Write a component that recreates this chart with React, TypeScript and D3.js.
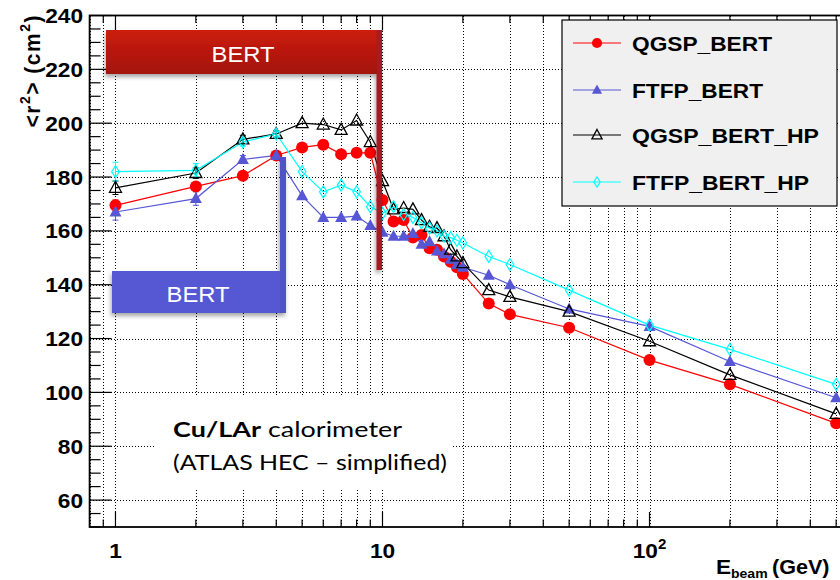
import React from 'react';
import * as d3 from 'd3';

// ---------- data ----------
const energies = [1, 2, 3, 4, 5, 6, 7, 8, 9, 10, 11, 12, 13, 14, 15, 16, 17, 18, 19, 20, 25, 30, 50, 100, 200, 500];
const qgspBert = [169.5, 176.5, 180.5, 188, 191, 192, 188.5, 189, 189, 171.5, 163.5, 164, 157.5, 158.5, 153.5, 153, 150.5, 148.5, 146.5, 144, 133, 129, 124, 112, 103, 88.5];
const ftfpBert = [167, 172, 186.5, 188, 173, 165, 165, 165.5, 162, 159.5, 158, 158, 159, 155, 156, 152.5, 151.5, 149.5, 147.5, 146.5, 143.5, 140, 131, 124.5, 111.5, 98];
const qgspBertHp = [176, 181.5, 194, 196, 200, 199.5, 197.5, 201, 193, 178.5, 168, 168.5, 168, 164, 161.5, 161, 158, 153, 150.5, 148, 138, 135.5, 130, 119, 106.5, 92];
const ftfpBertHp = [182, 182.5, 193, 196, 182, 174.5, 177, 174.5, 169, 166.5, 169, 166, 165, 163, 161, 160, 158, 157.5, 156.5, 155.5, 150.5, 147.5, 138, 125, 116, 103];
// error bars on the lowest energies (larger statistical spread)
const errQgspBert = [2.0, 1.5, 1.2, 1.2];
const errFtfpBert = [3.0, 2.5, 1.5, 1.2];
const errQgspBertHp = [2.5, 2.0, 1.5, 1.2];
const errFtfpBertHp = [3.5, 2.5, 1.5, 1.2];
const seriesNames = ['QGSP_BERT', 'FTFP_BERT', 'QGSP_BERT_HP', 'FTFP_BERT_HP'];
const seriesColors = ['#ff0000', '#5757d6', '#000000', '#00ffff'];
const seriesMarkers = ['circle', 'triangleFilled', 'triangleOpen', 'diamondOpen'];
const yTickLabels = [60, 80, 100, 120, 140, 160, 180, 200, 220, 240];
const xTickLabels = [
  { v: 1, label: '1', sup: '' },
  { v: 10, label: '10', sup: '' },
  { v: 100, label: '10', sup: '2' },
];

// ---------- layout ----------
const W = 840, H = 580;
const L = 89.6, R = 857.3, T = 15.5, B = 527;
const SX = 1.08;
const ARIAL = "'Liberation Sans', Arial, Helvetica, sans-serif";
const LATO = "Lato, 'Open Sans', sans-serif";

const x = d3.scaleLog().domain([0.8, 600]).range([L, R]);
const y = d3.scaleLinear().domain([50, 240]).range([B, T]);
const px = (v: number) => Math.round(v) + 0.5;

const xMinor: number[] = [];
[0.1, 1, 10, 100].forEach((k) => {
  for (let m = 1; m <= 9; m++) {
    const v = +(m * k).toFixed(6);
    if (v >= 0.8 && v <= 600) xMinor.push(v);
  }
});
const xMajor = [1, 10, 100];
const yMinor = d3.range(50, 241, 5);

function Marker({ type, color, cx, cy, s = 1 }: any) {
  if (type === 'circle') return <circle cx={cx} cy={cy} r={6 * s} fill={color} />;
  if (type === 'triangleFilled')
    return <path d={`M${cx},${cy - 6.5 * s}L${cx + 6 * s},${cy + 4.5 * s}L${cx - 6 * s},${cy + 4.5 * s}Z`} fill={color} />;
  if (type === 'triangleOpen')
    return <path d={`M${cx},${cy - 6.5 * s}L${cx + 6 * s},${cy + 4.5 * s}L${cx - 6 * s},${cy + 4.5 * s}Z`} fill="none" stroke={color} strokeWidth={1.3} />;
  return <path d={`M${cx},${cy - 6 * s}L${cx + 3.8 * s},${cy}L${cx},${cy + 6 * s}L${cx - 3.8 * s},${cy}Z`} fill="none" stroke={color} strokeWidth={1.2} />;
}

export default function App() {
  const series = [qgspBert, ftfpBert, qgspBertHp, ftfpBertHp];
  const errs = [errQgspBert, errFtfpBert, errQgspBertHp, errFtfpBertHp];
  const line = d3.line<[number, number]>().x((d) => x(d[0])).y((d) => y(d[1]));

  return (
    <svg width={W} height={H} style={{ position: 'absolute', left: 0, top: 0, background: '#fff' }}>
      <defs>
        <linearGradient id="redGrad" x1="0" y1="0" x2="0" y2="1">
          <stop offset="0" stopColor="#cc1c0c" />
          <stop offset="1" stopColor="#a3140b" />
        </linearGradient>
        <filter id="shadow" x="-10%" y="-20%" width="130%" height="160%">
          <feDropShadow dx="-1" dy="3" stdDeviation="2" floodColor="#000" floodOpacity="0.35" />
        </filter>
        <clipPath id="plotClip">
          <rect x={L} y={T} width={R - L} height={B - T} />
        </clipPath>
      </defs>
      <rect x={0} y={0} width={W} height={H} fill="#fff" />

      {/* grid */}
      <g stroke="#000" strokeWidth={1} strokeDasharray="1,2" shapeRendering="crispEdges">
        {xMinor.map((v) => (
          <line key={'gx' + v} x1={px(x(v))} x2={px(x(v))} y1={T} y2={B} />
        ))}
        {yTickLabels.filter((v) => v < 240).map((v) => (
          <line key={'gy' + v} x1={L} x2={R} y1={px(y(v))} y2={px(y(v))} />
        ))}
      </g>

      {/* text box (covers grid) */}
      <rect x={155} y={396} width={298} height={92} fill="#fff" />

      {/* data */}
      <g clipPath="url(#plotClip)">
        {series.map((vals, si) => (
          <path
            key={'l' + si}
            d={line(energies.map((e, i) => [e, vals[i]]) as [number, number][]) || ''}
            fill="none"
            stroke={seriesColors[si]}
            strokeWidth={1.2}
          />
        ))}
        {series.map((vals, si) =>
          errs[si].map((er, i) => (
            <g key={'e' + si + '-' + i} stroke={seriesColors[si]} strokeWidth={1}>
              <line x1={x(energies[i])} x2={x(energies[i])} y1={y(vals[i] - er)} y2={y(vals[i] + er)} />
              <line x1={x(energies[i]) - 3} x2={x(energies[i]) + 3} y1={y(vals[i] - er)} y2={y(vals[i] - er)} />
              <line x1={x(energies[i]) - 3} x2={x(energies[i]) + 3} y1={y(vals[i] + er)} y2={y(vals[i] + er)} />
            </g>
          ))
        )}
        {series.map((vals, si) =>
          energies.map((e, i) => (
            <Marker key={'m' + si + '-' + i} type={seriesMarkers[si]} color={seriesColors[si]} cx={x(e)} cy={y(vals[i])} />
          ))
        )}
      </g>

      {/* frame + ticks */}
      <g stroke="#000" strokeWidth={1.2}>
        {xMinor.map((v) => {
          const len = xMajor.includes(v) ? 15 : 7.5;
          return (
            <g key={'tx' + v}>
              <line x1={x(v)} x2={x(v)} y1={B} y2={B - len} />
              <line x1={x(v)} x2={x(v)} y1={T} y2={T + len} />
            </g>
          );
        })}
        {yMinor.map((v) => {
          const len = v % 20 === 0 ? 22 : 11;
          return <line key={'ty' + v} x1={L} x2={L + len} y1={y(v)} y2={y(v)} />;
        })}
      </g>
      <rect x={L} y={T} width={R - L} height={B - T} fill="none" stroke="#000" strokeWidth={1.8} />

      {/* y tick labels */}
      {yTickLabels.map((v) => (
        <text key={'yl' + v} transform={`translate(83,${y(v) + 7.5}) scale(${SX},1)`} textAnchor="end" fontFamily={ARIAL} fontWeight="bold" fontSize={21}>
          {v}
        </text>
      ))}
      {/* x tick labels */}
      {xTickLabels.map((t) => (
        <text key={'xl' + t.v} transform={`translate(${x(t.v)},558) scale(${SX},1)`} textAnchor="middle" fontFamily={ARIAL} fontWeight="bold" fontSize={21}>
          {t.label}
          {t.sup ? <tspan dy={-9} fontSize={14}>{t.sup}</tspan> : null}
        </text>
      ))}

      {/* axis titles */}
      <text transform={`translate(40,${T}) scale(${SX},1) rotate(-90)`} textAnchor="end" fontFamily={ARIAL} fontWeight="bold" fontSize={21} textLength={112} lengthAdjust="spacing">
        {'<r'}
        <tspan dy={-9} fontSize={14}>2</tspan>
        <tspan dy={9}>{'> (cm'}</tspan>
        <tspan dy={-9} fontSize={14}>2</tspan>
        <tspan dy={9}>)</tspan>
      </text>
      <text transform={`translate(716,574) scale(${SX},1)`} fontFamily={ARIAL} fontWeight="bold" fontSize={21}>E</text>
      <text transform={`translate(731,577.5) scale(${SX},1)`} fontFamily={ARIAL} fontWeight="bold" fontSize={13}>beam</text>
      <text transform={`translate(772,574) scale(${SX},1)`} fontFamily={ARIAL} fontWeight="bold" fontSize={20}>(GeV)</text>

      {/* annotation */}
      <text x={173} y={437} fontFamily={LATO} fontSize={21} textLength={229} lengthAdjust="spacingAndGlyphs">
        <tspan fontWeight="bold">Cu/LAr</tspan> calorimeter
      </text>
      <text x={173} y={470} fontFamily={LATO} fontSize={21} textLength={274} lengthAdjust="spacingAndGlyphs">
        (ATLAS HEC – simplified)
      </text>

      {/* BERT red box */}
      <g filter="url(#shadow)">
        <rect x={106} y={30} width={276} height={44} fill="url(#redGrad)" />
        <rect x={376.5} y={30} width={5.5} height={240} fill="#a51a26" />
      </g>
      <text transform={`translate(243,62) scale(${SX},1)`} textAnchor="middle" fontFamily={ARIAL} fontSize={22} fill="#fff">BERT</text>

      {/* BERT blue box */}
      <g filter="url(#shadow)">
        <rect x={112} y={271} width={173} height={42} fill="#5659d3" />
        <rect x={280} y={157} width={6} height={156} fill="#4f52c8" />
      </g>
      <text transform={`translate(198,302) scale(${SX},1)`} textAnchor="middle" fontFamily={ARIAL} fontSize={22} fill="#fff">BERT</text>

      {/* legend */}
      <rect x={562} y={20} width={275} height={186} fill="#f0f0f0" stroke="#000" strokeWidth={1.2} />
      {seriesNames.map((n, i) => {
        const cy = [43, 90, 135, 182][i];
        const widths = [140, 131, 187, 177];
        return (
          <g key={'lg' + i}>
            <line x1={573} x2={621} y1={cy} y2={cy} stroke={seriesColors[i]} strokeWidth={1.2} />
            <Marker type={seriesMarkers[i]} color={seriesColors[i]} cx={597} cy={cy} s={0.85} />
            <text x={632} y={cy + 7.5} fontFamily={ARIAL} fontWeight="bold" fontSize={21} textLength={widths[i]} lengthAdjust="spacingAndGlyphs">
              {n}
            </text>
          </g>
        );
      })}
    </svg>
  );
}
